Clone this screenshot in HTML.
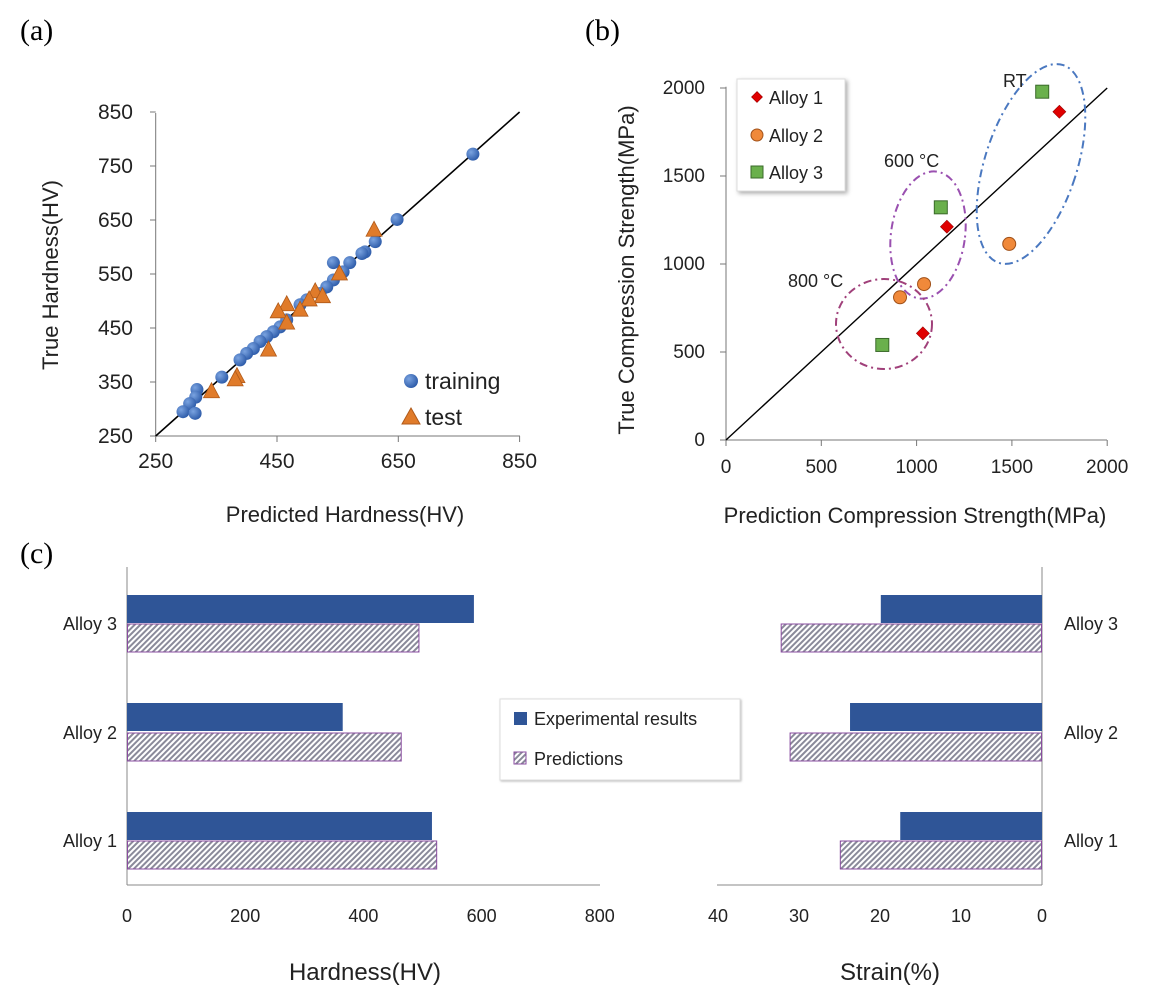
<!DOCTYPE html>
<html><head><meta charset="utf-8"><style>
body{margin:0;background:#fff}
svg{display:block}
text{font-family:"Liberation Sans",sans-serif;fill:#222}
.serif{font-family:"Liberation Serif",serif;fill:#000}
</style></head><body>
<svg id="fig" width="1155" height="995" viewBox="0 0 1155 995" xmlns="http://www.w3.org/2000/svg">
<defs>
<radialGradient id="ball" cx="0.35" cy="0.35" r="0.7"><stop offset="0" stop-color="#7aa3e0"/><stop offset="1" stop-color="#2c5aa8"/></radialGradient>
<pattern id="hatch" width="4" height="4" patternUnits="userSpaceOnUse" patternTransform="rotate(45)"><rect width="4" height="4" fill="#fff"/><rect width="2" height="4" fill="#8a8a9a"/></pattern>
</defs>
<text class="serif" x="20" y="40" font-size="30">(a)</text>
<text class="serif" x="585" y="40" font-size="30">(b)</text>
<text class="serif" x="20" y="563" font-size="30">(c)</text>
<g id="pa"></g>
<g id="pb"></g>
<g id="pc"></g>
</svg>
<script>
// Panel (a) data
const aTicks=[250,450,650,850];
const aYTicks=[250,350,450,550,650,750,850];
const trainX=[773,648,612,595,590,570,543,559,543,532,521,499,488,466,455,444,433,422,411,400,389,359,318,316,306,295,315];
const trainY=[772,651,610,591,588,571,571,554,539,526,514,502,493,465,452,443,434,425,412,403,391,359,336,322,310,295,292];
const testX=[610,553,513,525,503,488,466,452,466,436,384,381,342];
const testY=[631,550,517,508,502,483,493,480,459,409,360,354,332];
// Panel (b) data
const bTicks=[0,500,1000,1500,2000];
const alloy1X=[1749,1159,1033], alloy1Y=[1865,1212,606];
const alloy2X=[1486,1039,913], alloy2Y=[1114,886,811];
const alloy3X=[1659,1127,820], alloy3Y=[1979,1322,540];
// Panel (c) data
const alloys=["Alloy 1","Alloy 2","Alloy 3"];
const hardExp=[516,365,587];
const hardPred=[524,464,494];
const strainExp=[17.5,23.7,19.9];
const strainPred=[24.9,31.1,32.2];
const hardTicks=[0,200,400,600,800];
const strainTicks=[40,30,20,10,0];

const NS="http://www.w3.org/2000/svg";
function mk(parent,tag,attrs,txt){const e=document.createElementNS(NS,tag);for(const k in attrs)e.setAttribute(k,attrs[k]);if(txt!==undefined)e.textContent=txt;parent.appendChild(e);return e;}

// ---- Panel a
const pa=document.getElementById('pa');
const ax=v=>155.7+(v-250)*0.6065, ay=v=>436-(v-250)*0.54;
let e;
e=mk(pa,'line',{x1:155.7,y1:436,x2:520,y2:436,stroke:'#777'});

e=mk(pa,'line',{x1:155.7,y1:113,x2:155.7,y2:436,stroke:'#777'});

aTicks.forEach(t=>{mk(pa,'line',{x1:ax(t),y1:436,x2:ax(t),y2:442,stroke:'#777'});
 e=mk(pa,'text',{x:ax(t),y:468,'font-size':21,'text-anchor':'middle'},t);
 });
aYTicks.forEach(t=>{mk(pa,'line',{x1:150,y1:ay(t),x2:155.7,y2:ay(t),stroke:'#777'});
 e=mk(pa,'text',{x:133,y:ay(t)+7,'font-size':21,'text-anchor':'end'},t);
 });
e=mk(pa,'line',{x1:ax(250),y1:ay(250),x2:ax(850),y2:ay(850),stroke:'#000','stroke-width':1.6});

trainX.forEach((x,i)=>{e=mk(pa,'circle',{cx:ax(x),cy:ay(trainY[i]),r:6.5,fill:'url(#ball)'});
 });
testX.forEach((x,i)=>{const cx=ax(x),cy=ay(testY[i]);e=mk(pa,'polygon',{points:`${cx},${cy-9} ${cx-8},${cy+6} ${cx+8},${cy+6}`,fill:'#e07b2a',stroke:'#b05a1a','stroke-width':0.8});
 });
e=mk(pa,'circle',{cx:411,cy:381,r:7,fill:'url(#ball)'});
e=mk(pa,'text',{x:425,y:389,'font-size':23},'training');
e=mk(pa,'polygon',{points:'411,408 402,424 420,424',fill:'#e07b2a',stroke:'#b05a1a'});
e=mk(pa,'text',{x:425,y:425,'font-size':23},'test');
e=mk(pa,'text',{x:345,y:522,'font-size':22,'text-anchor':'middle'},'Predicted Hardness(HV)');
e=mk(pa,'text',{x:58,y:275,'font-size':22,'text-anchor':'middle',transform:'rotate(-90 58 275)'},'True Hardness(HV)');

// ---- Panel b
const pb=document.getElementById('pb');
const bx=v=>726+v*0.1906, by=v=>440-v*0.176;
e=mk(pb,'line',{x1:726,y1:440,x2:1107,y2:440,stroke:'#777'});
e=mk(pb,'line',{x1:726,y1:86.7,x2:726,y2:440,stroke:'#777'});
bTicks.forEach(t=>{mk(pb,'line',{x1:bx(t),y1:440,x2:bx(t),y2:446,stroke:'#777'});
 e=mk(pb,'text',{x:bx(t),y:473,'font-size':19,'text-anchor':'middle'},t);
 mk(pb,'line',{x1:720,y1:by(t),x2:726,y2:by(t),stroke:'#777'});
 e=mk(pb,'text',{x:705,y:by(t)+6,'font-size':19,'text-anchor':'end'},t);});
e=mk(pb,'line',{x1:bx(0),y1:by(0),x2:bx(2000),y2:by(2000),stroke:'#000','stroke-width':1.4});
e=mk(pb,'ellipse',{cx:1031,cy:164,rx:46,ry:104,fill:'none',stroke:'#4a78c0','stroke-width':2,'stroke-dasharray':'8 4 2 4',transform:'rotate(18 1031 164)'});
e=mk(pb,'ellipse',{cx:928,cy:235,rx:37,ry:64,fill:'none',stroke:'#9a50b0','stroke-width':2,'stroke-dasharray':'8 4 2 4',transform:'rotate(8 928 235)'});
e=mk(pb,'ellipse',{cx:884,cy:324,rx:48,ry:45,fill:'none',stroke:'#a0407a','stroke-width':2,'stroke-dasharray':'8 4 2 4'});
e=mk(pb,'text',{x:1003,y:87,'font-size':18},'RT');
e=mk(pb,'text',{x:884,y:167,'font-size':18},'600 °C');
e=mk(pb,'text',{x:788,y:287,'font-size':18},'800 °C');
function diamond(g,cx,cy,s){return mk(g,'polygon',{points:`${cx},${cy-s} ${cx+s},${cy} ${cx},${cy+s} ${cx-s},${cy}`,fill:'#e00000',stroke:'#900','stroke-width':0.6});}
alloy1X.forEach((x,i)=>{e=diamond(pb,bx(x),by(alloy1Y[i]),6.5);});
alloy2X.forEach((x,i)=>{e=mk(pb,'circle',{cx:bx(x),cy:by(alloy2Y[i]),r:6.5,fill:'#f0893a',stroke:'#a05018'});});
alloy3X.forEach((x,i)=>{e=mk(pb,'rect',{x:bx(x)-6.5,y:by(alloy3Y[i])-6.5,width:13,height:13,fill:'#6ab04c',stroke:'#3a6a2a'});});
e=mk(pb,'rect',{x:737,y:79,width:108,height:112,fill:'#fff',stroke:'#ddd',style:'filter:drop-shadow(2px 2px 2px #aaa)'});
e=diamond(pb,757,97,5.5);
e=mk(pb,'text',{x:769,y:104,'font-size':18},'Alloy 1');
e=mk(pb,'circle',{cx:757,cy:135,r:6,fill:'#f0893a',stroke:'#a05018'});
e=mk(pb,'text',{x:769,y:142,'font-size':18},'Alloy 2');
e=mk(pb,'rect',{x:751,y:166,width:12,height:12,fill:'#6ab04c',stroke:'#3a6a2a'});
e=mk(pb,'text',{x:769,y:179,'font-size':18},'Alloy 3');
e=mk(pb,'text',{x:915,y:523,'font-size':22,'text-anchor':'middle'},'Prediction Compression Strength(MPa)');
e=mk(pb,'text',{x:634,y:270,'font-size':22,'text-anchor':'middle',transform:'rotate(-90 634 270)'},'True Compression Strength(MPa)');

// ---- Panel c
const pc=document.getElementById('pc');
const hx=v=>127+v*0.591, sx=v=>1042-v*8.1;
const expY=[812,703,595], predY=[841,733,624];
e=mk(pc,'line',{x1:127,y1:567,x2:127,y2:885,stroke:'#888'});
e=mk(pc,'line',{x1:127,y1:885,x2:600,y2:885,stroke:'#888'});
e=mk(pc,'line',{x1:1042,y1:567,x2:1042,y2:885,stroke:'#888'});
e=mk(pc,'line',{x1:717,y1:885,x2:1042,y2:885,stroke:'#888'});
hardTicks.forEach(t=>{e=mk(pc,'text',{x:hx(t),y:922,'font-size':18,'text-anchor':'middle'},t);});
strainTicks.forEach(t=>{e=mk(pc,'text',{x:sx(t),y:922,'font-size':18,'text-anchor':'middle'},t);});
alloys.forEach((a,i)=>{
 e=mk(pc,'rect',{x:127,y:expY[i],width:hx(hardExp[i])-127,height:28,fill:'#2f5597'});
 e=mk(pc,'rect',{x:127.5,y:predY[i],width:hx(hardPred[i])-127.5,height:28,fill:'url(#hatch)',stroke:'#8a4ca0','stroke-width':1});
 e=mk(pc,'rect',{x:sx(strainExp[i]),y:expY[i],width:1042-sx(strainExp[i]),height:28,fill:'#2f5597'});
 e=mk(pc,'rect',{x:sx(strainPred[i]),y:predY[i],width:1041.5-sx(strainPred[i]),height:28,fill:'url(#hatch)',stroke:'#8a4ca0','stroke-width':1});
 e=mk(pc,'text',{x:117,y:predY[i]+6,'font-size':18,'text-anchor':'end'},a);
 e=mk(pc,'text',{x:1064,y:predY[i]+6,'font-size':18},a);
});
e=mk(pc,'rect',{x:500,y:699,width:240,height:81,fill:'#fff',stroke:'#ddd',style:'filter:drop-shadow(1px 1px 1px #bbb)'});
e=mk(pc,'rect',{x:514,y:712,width:13,height:13,fill:'#2f5597'});
e=mk(pc,'text',{x:534,y:725,'font-size':18},'Experimental results');
e=mk(pc,'rect',{x:514,y:752,width:12,height:12,fill:'url(#hatch)',stroke:'#8a4ca0'});
e=mk(pc,'text',{x:534,y:765,'font-size':18},'Predictions');
e=mk(pc,'text',{x:365,y:980,'font-size':24,'text-anchor':'middle'},'Hardness(HV)');
e=mk(pc,'text',{x:890,y:980,'font-size':24,'text-anchor':'middle'},'Strain(%)');
</script>
</body></html>
